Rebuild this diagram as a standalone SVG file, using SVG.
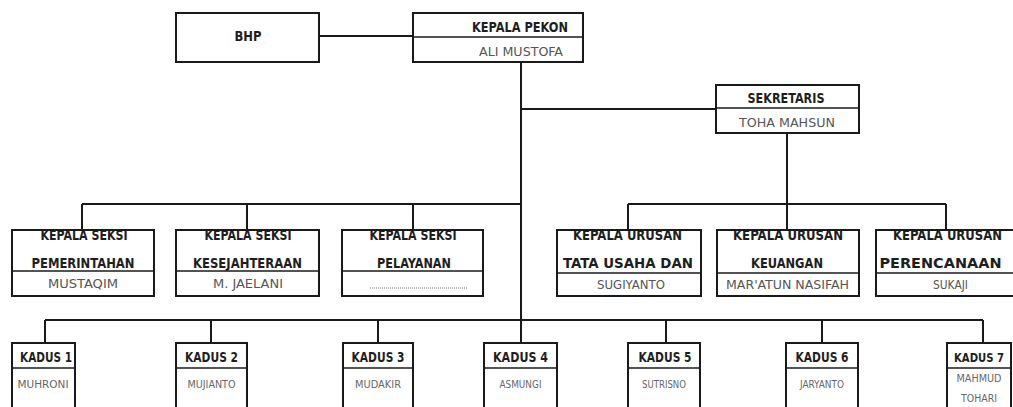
<svg xmlns="http://www.w3.org/2000/svg" width="1013" height="407" viewBox="0 0 1013 407">
<style>
.box{fill:#fff;stroke:#1a1a1a;stroke-width:2}
.div{stroke:#1a1a1a;stroke-width:1.6}
.ln{fill:none;stroke:#1a1a1a;stroke-width:2}
.t{font-family:"Liberation Sans Narrow","DejaVu Sans Condensed","Liberation Sans",sans-serif;font-weight:bold;font-size:13.5px;fill:#1e1e1e;text-anchor:middle}
.n{font-family:"Liberation Sans Narrow","DejaVu Sans Condensed","Liberation Sans",sans-serif;font-size:13px;fill:#555;text-anchor:middle}
.k{font-family:"Liberation Sans Narrow","DejaVu Sans Condensed","Liberation Sans",sans-serif;font-weight:bold;font-size:14px;fill:#1e1e1e;text-anchor:middle}
.kn{font-family:"Liberation Sans Narrow","DejaVu Sans Condensed","Liberation Sans",sans-serif;font-size:10.5px;fill:#666;text-anchor:middle}
</style>
<defs>
<clipPath id="c1"><rect x="12" y="231" width="142" height="66"/></clipPath>
<clipPath id="c2"><rect x="176" y="231" width="143" height="66"/></clipPath>
<clipPath id="c3"><rect x="342" y="231" width="141" height="66"/></clipPath>
<clipPath id="c4"><rect x="557" y="231" width="144" height="66"/></clipPath>
<clipPath id="c5"><rect x="717" y="231" width="142" height="66"/></clipPath>
<clipPath id="c6"><rect x="876" y="231" width="140" height="66"/></clipPath>
</defs>
<rect width="1013" height="407" fill="#fff"/>
<g id="connectors">
<line class="ln" x1="319" y1="36" x2="413" y2="36"/>
<line class="ln" x1="521" y1="62" x2="521" y2="344"/>
<line class="ln" x1="521" y1="109" x2="716" y2="109"/>
<line class="ln" x1="787" y1="133" x2="787" y2="230"/>
<line class="ln" x1="628" y1="204" x2="946" y2="204"/>
<line class="ln" x1="628" y1="204" x2="628" y2="230"/>
<line class="ln" x1="946" y1="204" x2="946" y2="230"/>
<line class="ln" x1="82" y1="204" x2="521" y2="204"/>
<line class="ln" x1="82" y1="204" x2="82" y2="230"/>
<line class="ln" x1="247" y1="204" x2="247" y2="230"/>
<line class="ln" x1="413" y1="204" x2="413" y2="230"/>
<line class="ln" x1="45" y1="320" x2="983" y2="320"/>
<line class="ln" x1="45" y1="320" x2="45" y2="343"/>
<line class="ln" x1="211" y1="320" x2="211" y2="343"/>
<line class="ln" x1="378" y1="320" x2="378" y2="343"/>
<line class="ln" x1="666" y1="320" x2="666" y2="343"/>
<line class="ln" x1="822" y1="320" x2="822" y2="343"/>
<line class="ln" x1="983" y1="320" x2="983" y2="343"/>
</g>
<g id="bhp">
<rect class="box" x="176" y="13" width="143" height="49"/>
<text class="t" x="248" y="41" textLength="27" lengthAdjust="spacingAndGlyphs">BHP</text>
</g>
<g id="kepala-pekon">
<rect class="box" x="413" y="13" width="170" height="49"/>
<line class="div" x1="413" y1="37" x2="583" y2="37"/>
<text class="t" x="520" y="32" textLength="96" lengthAdjust="spacingAndGlyphs">KEPALA PEKON</text>
<text class="n" x="521" y="56" textLength="84" lengthAdjust="spacingAndGlyphs">ALI MUSTOFA</text>
</g>
<g id="sekretaris">
<rect class="box" x="716" y="85" width="143" height="48"/>
<line class="div" x1="716" y1="108" x2="859" y2="108"/>
<text class="t" x="786" y="103" textLength="77" lengthAdjust="spacingAndGlyphs">SEKRETARIS</text>
<text class="n" x="787" y="127" textLength="96" lengthAdjust="spacingAndGlyphs">TOHA MAHSUN</text>
</g>
<g id="seksi-pemerintahan">
<rect class="box" x="12" y="230" width="142" height="66"/>
<text class="t" x="84" y="240" textLength="87" lengthAdjust="spacingAndGlyphs" clip-path="url(#c1)">KEPALA SEKSI</text>
<text class="t" x="83" y="268" textLength="103" lengthAdjust="spacingAndGlyphs">PEMERINTAHAN</text>
<line class="div" x1="12" y1="271" x2="154" y2="271"/>
<text class="n" x="83" y="288" textLength="70" lengthAdjust="spacingAndGlyphs">MUSTAQIM</text>
<rect x="12" y="230" width="142" height="66" fill="none" stroke="#1a1a1a" stroke-width="2"/>
</g>
<g id="seksi-kesejahteraan">
<rect class="box" x="176" y="230" width="143" height="66"/>
<text class="t" x="248" y="240" textLength="87" lengthAdjust="spacingAndGlyphs" clip-path="url(#c2)">KEPALA SEKSI</text>
<text class="t" x="247.5" y="268" textLength="109" lengthAdjust="spacingAndGlyphs">KESEJAHTERAAN</text>
<line class="div" x1="176" y1="271" x2="319" y2="271"/>
<text class="n" x="248" y="288" textLength="70" lengthAdjust="spacingAndGlyphs">M. JAELANI</text>
<rect x="176" y="230" width="143" height="66" fill="none" stroke="#1a1a1a" stroke-width="2"/>
</g>
<g id="seksi-pelayanan">
<rect class="box" x="342" y="230" width="141" height="66"/>
<text class="t" x="413" y="240" textLength="87" lengthAdjust="spacingAndGlyphs" clip-path="url(#c3)">KEPALA SEKSI</text>
<text class="t" x="414" y="268" textLength="74" lengthAdjust="spacingAndGlyphs">PELAYANAN</text>
<line class="div" x1="342" y1="271" x2="483" y2="271"/>
<line x1="370" y1="288" x2="468" y2="288" stroke="#777" stroke-width="1" stroke-dasharray="1 1"/>
<rect x="342" y="230" width="141" height="66" fill="none" stroke="#1a1a1a" stroke-width="2"/>
</g>
<g id="urusan-tu">
<rect class="box" x="557" y="230" width="144" height="66"/>
<text class="t" x="627.5" y="240" textLength="109" lengthAdjust="spacingAndGlyphs" clip-path="url(#c4)">KEPALA URUSAN</text>
<text class="t" x="628" y="268" textLength="130" lengthAdjust="spacingAndGlyphs">TATA USAHA DAN</text>
<line class="div" x1="557" y1="273" x2="701" y2="273"/>
<text class="n" x="631" y="289" textLength="68" lengthAdjust="spacingAndGlyphs">SUGIYANTO</text>
<rect x="557" y="230" width="144" height="66" fill="none" stroke="#1a1a1a" stroke-width="2"/>
</g>
<g id="urusan-keuangan">
<rect class="box" x="717" y="230" width="142" height="66"/>
<text class="t" x="788" y="240" textLength="110" lengthAdjust="spacingAndGlyphs" clip-path="url(#c5)">KEPALA URUSAN</text>
<text class="t" x="787" y="268" textLength="72" lengthAdjust="spacingAndGlyphs">KEUANGAN</text>
<line class="div" x1="717" y1="273" x2="859" y2="273"/>
<text class="n" x="787.5" y="289" textLength="123" lengthAdjust="spacingAndGlyphs">MAR'ATUN NASIFAH</text>
<rect x="717" y="230" width="142" height="66" fill="none" stroke="#1a1a1a" stroke-width="2"/>
</g>
<g id="urusan-perencanaan">
<rect class="box" x="876" y="230" width="140" height="66"/>
<text class="t" x="947.5" y="240" textLength="109" lengthAdjust="spacingAndGlyphs" clip-path="url(#c6)">KEPALA URUSAN</text>
<text class="t" x="940.5" y="268" textLength="122" lengthAdjust="spacingAndGlyphs">PERENCANAAN</text>
<line class="div" x1="876" y1="273" x2="1016" y2="273"/>
<text class="n" x="950.5" y="289" textLength="35" lengthAdjust="spacingAndGlyphs">SUKAJI</text>
<rect x="876" y="230" width="140" height="66" fill="none" stroke="#1a1a1a" stroke-width="2"/>
</g>
<g id="kadus-1">
<rect class="box" x="12" y="343" width="63" height="80"/>
<line class="div" x1="12" y1="368" x2="75" y2="368"/>
<text class="k" x="46" y="362" textLength="52" lengthAdjust="spacingAndGlyphs">KADUS 1</text>
<text class="kn" x="43" y="388" textLength="51" lengthAdjust="spacingAndGlyphs">MUHRONI</text>
</g>
<g id="kadus-2">
<rect class="box" x="176" y="343" width="71" height="80"/>
<line class="div" x1="176" y1="368" x2="247" y2="368"/>
<text class="k" x="211.5" y="362" textLength="53" lengthAdjust="spacingAndGlyphs">KADUS 2</text>
<text class="kn" x="211.5" y="388" textLength="48" lengthAdjust="spacingAndGlyphs">MUJIANTO</text>
</g>
<g id="kadus-3">
<rect class="box" x="343" y="343" width="70" height="80"/>
<line class="div" x1="343" y1="368" x2="413" y2="368"/>
<text class="k" x="378" y="362" textLength="53" lengthAdjust="spacingAndGlyphs">KADUS 3</text>
<text class="kn" x="378" y="388" textLength="46" lengthAdjust="spacingAndGlyphs">MUDAKIR</text>
</g>
<g id="kadus-4">
<rect class="box" x="484" y="343" width="73" height="80"/>
<line class="div" x1="484" y1="368" x2="557" y2="368"/>
<text class="k" x="520.5" y="362" textLength="55" lengthAdjust="spacingAndGlyphs">KADUS 4</text>
<text class="kn" x="520.5" y="388" textLength="42" lengthAdjust="spacingAndGlyphs">ASMUNGI</text>
</g>
<g id="kadus-5">
<rect class="box" x="628" y="343" width="72" height="80"/>
<line class="div" x1="628" y1="368" x2="700" y2="368"/>
<text class="k" x="665" y="362" textLength="53" lengthAdjust="spacingAndGlyphs">KADUS 5</text>
<text class="kn" x="664" y="388" textLength="44" lengthAdjust="spacingAndGlyphs">SUTRISNO</text>
</g>
<g id="kadus-6">
<rect class="box" x="786" y="343" width="72" height="80"/>
<line class="div" x1="786" y1="368" x2="858" y2="368"/>
<text class="k" x="822" y="362" textLength="53" lengthAdjust="spacingAndGlyphs">KADUS 6</text>
<text class="kn" x="822" y="388" textLength="44" lengthAdjust="spacingAndGlyphs">JARYANTO</text>
</g>
<g id="kadus-7">
<rect class="box" x="947" y="343" width="64" height="80"/>
<line class="div" x1="947" y1="368" x2="1011" y2="368"/>
<text class="k" x="979" y="362" style="font-size:12.5px" textLength="50" lengthAdjust="spacingAndGlyphs">KADUS 7</text>
<text class="kn" x="979" y="382" textLength="45" lengthAdjust="spacingAndGlyphs">MAHMUD</text>
<text class="kn" x="979" y="402" textLength="36" lengthAdjust="spacingAndGlyphs">TOHARI</text>
</g>
</svg>
